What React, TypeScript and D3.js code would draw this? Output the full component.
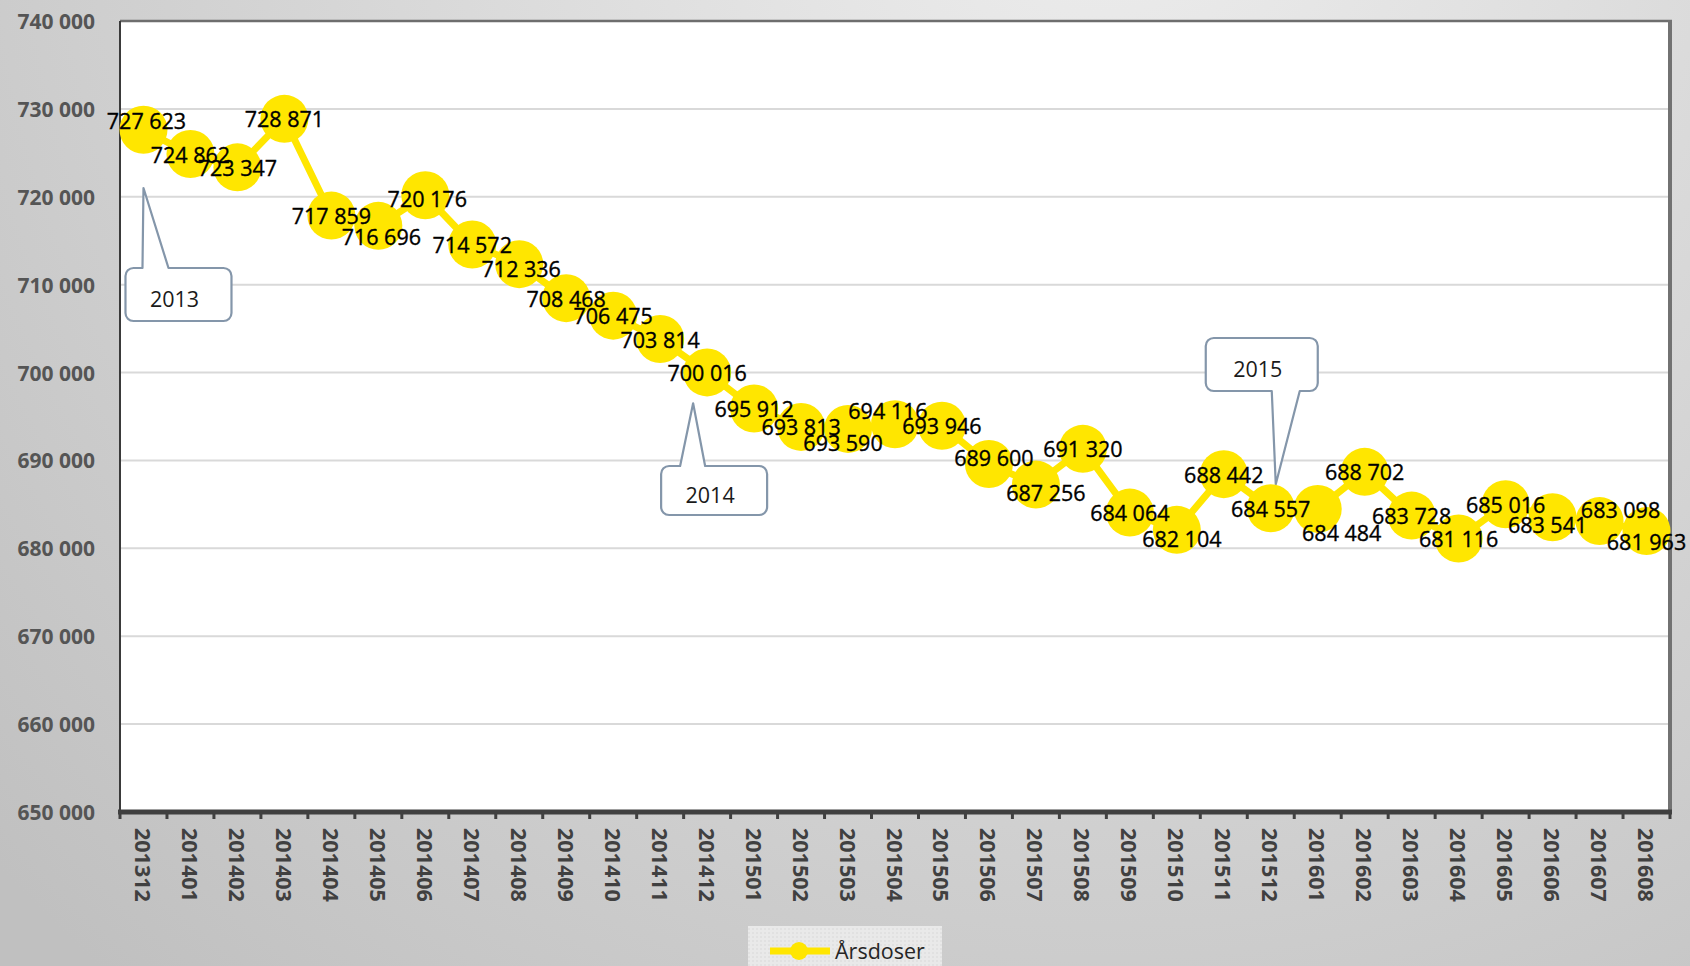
import React, { useEffect, useRef } from 'react';
import * as d3 from 'd3';

// monthly periods (YYYYMM)
const months = [
  '201312',
  '201401', '201402', '201403', '201404', '201405', '201406',
  '201407', '201408', '201409', '201410', '201411', '201412',
  '201501', '201502', '201503', '201504', '201505', '201506',
  '201507', '201508', '201509', '201510', '201511', '201512',
  '201601', '201602', '201603', '201604', '201605', '201606',
  '201607', '201608',
];

// Årsdoser per month
const arsdoser = [
  727623,
  724862, 723347, 728871, 717859, 716696, 720176,
  714572, 712336, 708468, 706475, 703814, 700016,
  695912, 693813, 693590, 694116, 693946, 689600,
  687256, 691320, 684064, 682104, 688442, 684557,
  684484, 688702, 683728, 681116, 685016, 683541,
  683098, 681963,
];

const yTicks = [650000, 660000, 670000, 680000, 690000, 700000, 710000, 720000, 730000, 740000];

const seriesName = 'Årsdoser';

// year callouts: which month they point at, and the value the tip reaches
const calloutLabels = ['2013', '2014', '2015'];
const calloutMonths = ['201312', '201412', '201512'];
const calloutTipValues = [721000, 696500, 687300];

const W = 1690;
const H = 966;
const FONT = "'Open Sans', 'Liberation Sans', Arial, sans-serif";
const YELLOW = '#FFE600';

// hand placed label nudges (like manually dragged labels in the original)
const labelNudge: Record<string, [number, number]> = {
  '201312': [3, -9],
  '201405': [3, 11],
  '201406': [2, 3],
  '201408': [2, 4],
  '201503': [-5, 14],
  '201504': [-7, -14],
  '201506': [5, -6],
  '201507': [10, 8],
  '201510': [5, 9],
  '201601': [24, 24],
  '201606': [-5, 7],
  '201607': [21, -12],
  '201608': [0, 10],
};

// box placement for each callout, relative to the month's x position
const calloutBoxes = [
  { dx0: -18, dx1: 88, y0: 268, y1: 321, base: [-1, 25], tipDx: 0, side: 'top' },
  { dx0: -46, dx1: 60, y0: 466, y1: 515, base: [-27, -2], tipDx: -14, side: 'top' },
  { dx0: -65, dx1: 47, y0: 338, y1: 391, base: [1, 29], tipDx: 5, side: 'bottom' },
];

function calloutPath(
  x0: number, y0: number, x1: number, y1: number, r: number,
  side: string, b1: number, b2: number, tx: number, ty: number
) {
  const p = d3.path();
  p.moveTo(x0 + r, y0);
  if (side === 'top') {
    p.lineTo(b1, y0);
    p.lineTo(tx, ty);
    p.lineTo(b2, y0);
  }
  p.lineTo(x1 - r, y0);
  p.arcTo(x1, y0, x1, y0 + r, r);
  p.lineTo(x1, y1 - r);
  p.arcTo(x1, y1, x1 - r, y1, r);
  if (side === 'bottom') {
    p.lineTo(b2, y1);
    p.lineTo(tx, ty);
    p.lineTo(b1, y1);
  }
  p.lineTo(x0 + r, y1);
  p.arcTo(x0, y1, x0, y1 - r, r);
  p.lineTo(x0, y0 + r);
  p.arcTo(x0, y0, x0 + r, y0, r);
  p.closePath();
  return p.toString();
}

const App: React.FC = () => {
  const svgRef = useRef<SVGSVGElement | null>(null);

  useEffect(() => {
    document.body.style.margin = '0';
    const svg = d3.select(svgRef.current!);
    svg.selectAll('*').remove();

    const left = 120, right = 1670, top = 21, bottom = 812;

    const x = d3.scaleBand<string>().domain(months).range([left, right]);
    const y = d3.scaleLinear().domain([650000, 740000]).range([bottom, top]);
    const cx = (m: string) => x(m)! + x.bandwidth() / 2;

    const fmt = d3.formatLocale({
      decimal: ',', thousands: ' ', grouping: [3], currency: ['', ''],
    }).format(',d');

    const defs = svg.append('defs');
    const grad = defs.append('radialGradient')
      .attr('id', 'bg')
      .attr('gradientUnits', 'userSpaceOnUse')
      .attr('cx', 1100).attr('cy', -150).attr('r', 1500);
    grad.append('stop').attr('offset', '0%').attr('stop-color', '#eeeeee');
    grad.append('stop').attr('offset', '100%').attr('stop-color', '#c0c0c0');

    const pat = defs.append('pattern')
      .attr('id', 'legpat')
      .attr('patternUnits', 'userSpaceOnUse')
      .attr('width', 4).attr('height', 4);
    pat.append('rect').attr('width', 4).attr('height', 4).attr('fill', '#e9e9e9');
    pat.append('rect').attr('width', 2).attr('height', 2).attr('fill', '#e1e1e1');

    svg.append('rect')
      .attr('width', W).attr('height', H)
      .attr('fill', 'url(#bg)');

    // plot area
    svg.append('rect')
      .attr('x', left).attr('y', top)
      .attr('width', right - left).attr('height', bottom - top)
      .attr('fill', '#ffffff');

    // gridlines
    svg.append('g')
      .selectAll('line')
      .data(yTicks.filter(t => t !== 650000 && t !== 740000))
      .enter()
      .append('line')
      .attr('x1', left).attr('x2', right)
      .attr('y1', d => y(d)).attr('y2', d => y(d))
      .attr('stroke', '#d9d9d9')
      .attr('stroke-width', 2);

    // frame
    svg.append('line')
      .attr('x1', left).attr('x2', right + 2)
      .attr('y1', top).attr('y2', top)
      .attr('stroke', '#6e6e6e').attr('stroke-width', 2.5);
    svg.append('line')
      .attr('x1', right).attr('x2', right)
      .attr('y1', top - 1).attr('y2', bottom)
      .attr('stroke', '#727272').attr('stroke-width', 4);
    svg.append('line')
      .attr('x1', left).attr('x2', left)
      .attr('y1', top).attr('y2', bottom)
      .attr('stroke', '#3a3a3a').attr('stroke-width', 2);
    svg.append('line')
      .attr('x1', left - 2).attr('x2', right + 2)
      .attr('y1', bottom).attr('y2', bottom)
      .attr('stroke', '#404040').attr('stroke-width', 5);

    // x ticks at band edges
    const edges = months.map(m => x(m)!).concat([right]);
    svg.append('g')
      .selectAll('line')
      .data(edges)
      .enter()
      .append('line')
      .attr('x1', d => d).attr('x2', d => d)
      .attr('y1', bottom).attr('y2', bottom + 7)
      .attr('stroke', '#404040')
      .attr('stroke-width', 3);

    // y labels
    svg.append('g')
      .selectAll('text')
      .data(yTicks)
      .enter()
      .append('text')
      .attr('x', 95)
      .attr('y', d => y(d))
      .attr('text-anchor', 'end')
      .attr('dominant-baseline', 'central')
      .attr('font-family', FONT)
      .attr('font-size', '21px')
      .attr('font-weight', 'bold')
      .style('fill', '#555555')
      .text(d => fmt(d));

    // x labels, rotated
    svg.append('g')
      .selectAll('text')
      .data(months)
      .enter()
      .append('text')
      .attr('transform', d => `translate(${cx(d)},828) rotate(90)`)
      .attr('text-anchor', 'start')
      .attr('dominant-baseline', 'central')
      .attr('font-family', FONT)
      .attr('font-size', '21.5px')
      .attr('font-weight', 'bold')
      .style('fill', '#404040')
      .text(d => d);

    // callouts
    calloutLabels.forEach((lab, i) => {
      const b = calloutBoxes[i];
      const mx = cx(calloutMonths[i]);
      const x0 = mx + b.dx0, x1 = mx + b.dx1;
      const d = calloutPath(
        x0, b.y0, x1, b.y1, 8, b.side,
        mx + b.base[0], mx + b.base[1], mx + b.tipDx, y(calloutTipValues[i])
      );
      svg.append('path')
        .attr('d', d)
        .attr('fill', '#ffffff')
        .attr('stroke', '#8496aa')
        .attr('stroke-width', 2.2)
        .attr('stroke-linejoin', 'round');
      svg.append('text')
        .attr('x', (x0 + x1) / 2 - 4)
        .attr('y', (b.y0 + b.y1) / 2 + 4)
        .attr('text-anchor', 'middle')
        .attr('dominant-baseline', 'central')
        .attr('font-family', FONT)
        .attr('font-size', '21.5px')
        .style('fill', '#1a1a1a')
        .text(lab);
    });

    const pts = months.map((m, i) => ({ m, v: arsdoser[i] }));

    // series line
    const line = d3.line<{ m: string; v: number }>()
      .x(d => cx(d.m))
      .y(d => y(d.v));
    svg.append('path')
      .datum(pts)
      .attr('d', line)
      .attr('fill', 'none')
      .attr('stroke', YELLOW)
      .attr('stroke-width', 7)
      .attr('stroke-linejoin', 'round');

    svg.append('g')
      .selectAll('circle')
      .data(pts)
      .enter()
      .append('circle')
      .attr('cx', d => cx(d.m))
      .attr('cy', d => y(d.v))
      .attr('r', 24)
      .attr('fill', YELLOW);

    svg.append('g')
      .selectAll('text')
      .data(pts)
      .enter()
      .append('text')
      .attr('x', d => cx(d.m) + (labelNudge[d.m]?.[0] ?? 0))
      .attr('y', d => y(d.v) + (labelNudge[d.m]?.[1] ?? 0))
      .attr('text-anchor', 'middle')
      .attr('dominant-baseline', 'central')
      .attr('font-family', FONT)
      .attr('font-size', '21.5px')
      .style('fill', '#000000')
      .style('stroke', '#000000')
      .style('stroke-width', 0.35)
      .text(d => fmt(d.v));

    // legend
    const lg = svg.append('g');
    lg.append('rect')
      .attr('x', 748).attr('y', 926)
      .attr('width', 194).attr('height', 42)
      .attr('fill', 'url(#legpat)');
    lg.append('line')
      .attr('x1', 770).attr('x2', 830)
      .attr('y1', 951).attr('y2', 951)
      .attr('stroke', YELLOW).attr('stroke-width', 7);
    lg.append('circle')
      .attr('cx', 799).attr('cy', 951).attr('r', 9)
      .attr('fill', YELLOW);
    lg.append('text')
      .attr('x', 835).attr('y', 950)
      .attr('dominant-baseline', 'central')
      .attr('font-family', FONT)
      .attr('font-size', '21.5px')
      .style('fill', '#262626')
      .text(seriesName);
  }, []);

  return (
    <svg
      ref={svgRef}
      width={W}
      height={H}
      style={{ display: 'block', position: 'absolute', left: 0, top: 0 }}
    />
  );
};

export default App;
